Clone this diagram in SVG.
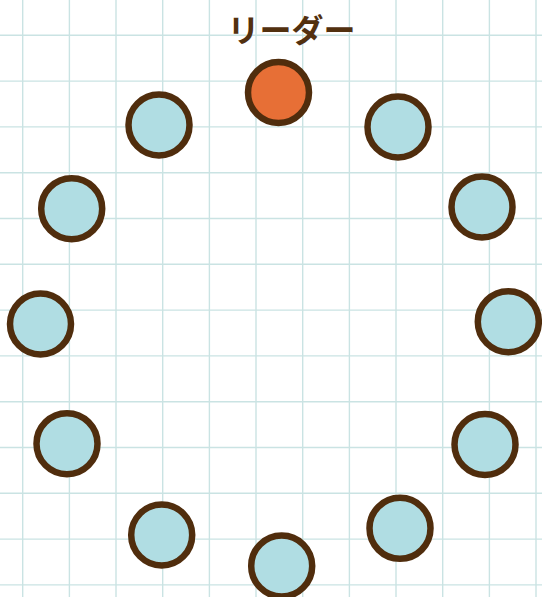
<svg xmlns="http://www.w3.org/2000/svg" width="542" height="597" viewBox="0 0 542 597">
<style>
.grid line{stroke:#cae3e3;stroke-width:1.4}
.member{fill:#b0dde3;stroke:#502d0d;stroke-width:6.5}
.leader{fill:#e76f36;stroke:#502d0d;stroke-width:6.5}
.label{font-family:"Noto Sans CJK JP","Noto Sans",sans-serif;font-size:32px;font-weight:bold;fill:#52300f}
</style>
<rect width="542" height="597" fill="#ffffff"/>
<g class="grid">
<line x1="22.7" y1="0" x2="22.7" y2="597"/>
<line x1="69.4" y1="0" x2="69.4" y2="597"/>
<line x1="116" y1="0" x2="116" y2="597"/>
<line x1="162.7" y1="0" x2="162.7" y2="597"/>
<line x1="209.4" y1="0" x2="209.4" y2="597"/>
<line x1="256" y1="0" x2="256" y2="597"/>
<line x1="302.7" y1="0" x2="302.7" y2="597"/>
<line x1="349.4" y1="0" x2="349.4" y2="597"/>
<line x1="396" y1="0" x2="396" y2="597"/>
<line x1="442.7" y1="0" x2="442.7" y2="597"/>
<line x1="489.4" y1="0" x2="489.4" y2="597"/>
<line x1="536" y1="0" x2="536" y2="597"/>
<line x1="0" y1="35.3" x2="542" y2="35.3"/>
<line x1="0" y1="81.1" x2="542" y2="81.1"/>
<line x1="0" y1="126.9" x2="542" y2="126.9"/>
<line x1="0" y1="172.7" x2="542" y2="172.7"/>
<line x1="0" y1="218.5" x2="542" y2="218.5"/>
<line x1="0" y1="264.3" x2="542" y2="264.3"/>
<line x1="0" y1="310.1" x2="542" y2="310.1"/>
<line x1="0" y1="355.9" x2="542" y2="355.9"/>
<line x1="0" y1="401.7" x2="542" y2="401.7"/>
<line x1="0" y1="447.5" x2="542" y2="447.5"/>
<line x1="0" y1="493.3" x2="542" y2="493.3"/>
<line x1="0" y1="539.1" x2="542" y2="539.1"/>
<line x1="0" y1="584.9" x2="542" y2="584.9"/>
</g>
<g id="connectors"></g>
<g id="leader">
<circle class="leader" cx="278.5" cy="92.5" r="30.5"/>
<text class="label" x="291.5" y="42" text-anchor="middle">リーダー</text>
</g>
<g id="m1"><circle class="member" cx="159" cy="125" r="30.5"/></g>
<g id="m2"><circle class="member" cx="398" cy="127" r="30.5"/></g>
<g id="m3"><circle class="member" cx="71.7" cy="208.7" r="30.5"/></g>
<g id="m4"><circle class="member" cx="482" cy="207" r="30.5"/></g>
<g id="m5"><circle class="member" cx="40.5" cy="324" r="30.5"/></g>
<g id="m6"><circle class="member" cx="508.3" cy="321.7" r="30.5"/></g>
<g id="m7"><circle class="member" cx="67" cy="443.7" r="30.5"/></g>
<g id="m8"><circle class="member" cx="485" cy="444.5" r="30.5"/></g>
<g id="m9"><circle class="member" cx="161.7" cy="535" r="30.5"/></g>
<g id="m10"><circle class="member" cx="400" cy="528.3" r="30.5"/></g>
<g id="m11"><circle class="member" cx="281.7" cy="566" r="30.5"/></g>
</svg>
